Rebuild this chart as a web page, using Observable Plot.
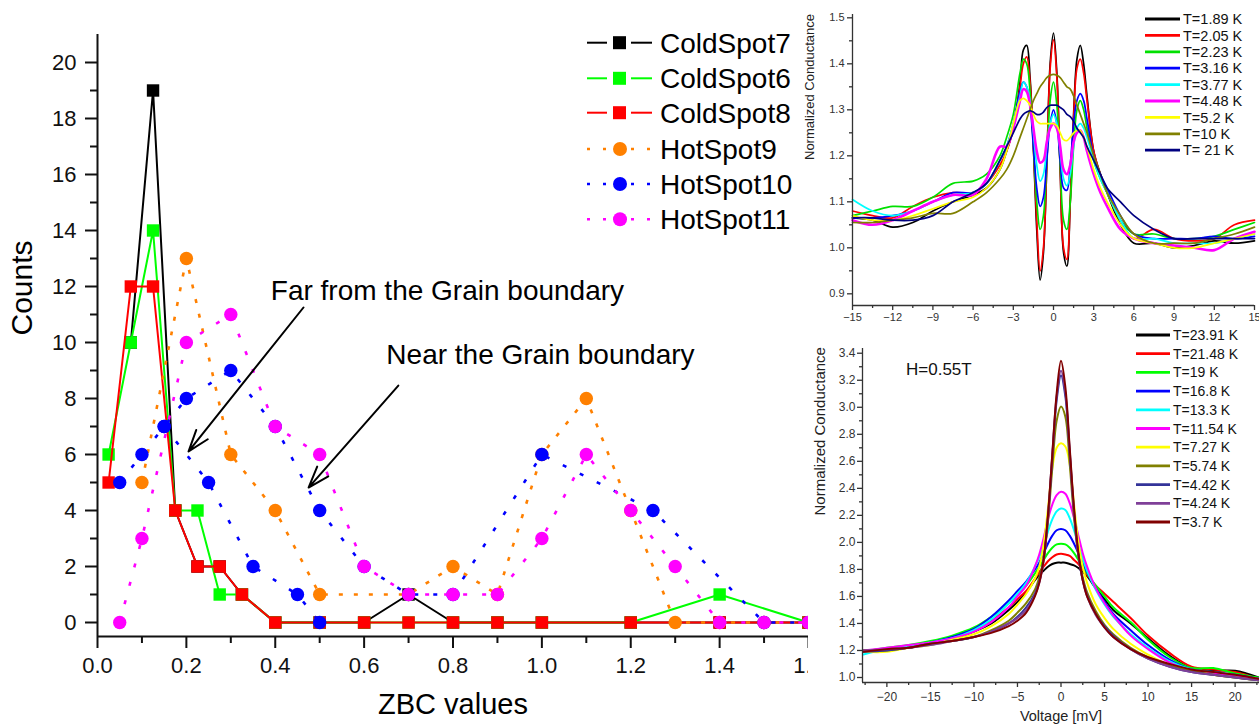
<!DOCTYPE html>
<html><head><meta charset="utf-8">
<script src="https://cdn.jsdelivr.net/npm/d3@7"></script>
<script src="https://cdn.jsdelivr.net/npm/@observablehq/plot@0.6"></script>
<style>
body{margin:0;background:#fff;width:1259px;height:727px;overflow:hidden;position:relative;font-family:"Liberation Sans",Arial,sans-serif;}
.box{position:absolute;}
#main{left:0;top:0;width:812px;height:727px;}
#cover1{position:absolute;left:808px;top:0;width:451px;height:727px;background:#fff;}
#cover2{position:absolute;left:800px;top:0;width:8px;height:330px;background:#fff;}
#bot{left:808px;top:320px;width:451px;height:407px;}
#top{left:800px;top:0;width:459px;height:330px;}
svg text{white-space:pre;}
</style></head><body>
<div id="main" class="box"></div><div id="cover1"></div><div id="cover2"></div><div id="bot" class="box"></div><div id="top" class="box"></div>
<script>
// ---------------- main chart data (ZBC histogram) ----------------
const cold7X = [0.075,0.125,0.175,0.225,0.275,0.325,0.4,0.5,0.6,0.7,0.8,0.9,1.0,1.2,1.4,1.6];
const cold7Y = [10,19,4,2,2,1,0,0,0,1,0,0,0,0,0,0];
const cold6X = [0.025,0.075,0.125,0.175,0.225,0.275,0.325,0.4,0.5,0.6,0.7,0.8,0.9,1.0,1.2,1.4,1.6];
const cold6Y = [6,10,14,4,4,1,1,0,0,0,0,0,0,0,0,1,0];
const cold8X = [0.025,0.075,0.125,0.175,0.225,0.275,0.325,0.4,0.5,0.6,0.7,0.8,0.9,1.0,1.2,1.4,1.6];
const cold8Y = [5,12,12,4,2,2,1,0,0,0,0,0,0,0,0,0,0];
const hot9X = [0.1,0.2,0.3,0.4,0.5,0.7,0.8,0.9,1.0,1.1,1.2,1.3,1.4,1.5,1.6];
const hot9Y = [5,13,6,4,1,1,2,1,6,8,4,0,0,0,0];
const hot10X = [0.05,0.1,0.15,0.2,0.3,0.4,0.5,0.6,0.7,0.8,1.0,1.25,1.5,1.6];
const hot10Y = [5,6,7,8,9,7,4,2,1,1,6,4,0,0];
const hot10bX = [0.15,0.25,0.35,0.45,0.5];
const hot10bY = [7,5,2,1,0];
const hot11X = [0.05,0.1,0.2,0.3,0.4,0.5,0.6,0.7,0.8,0.9,1.0,1.1,1.2,1.3,1.4,1.5,1.6];
const hot11Y = [0,3,10,11,7,6,2,1,1,1,3,6,4,2,0,0,0];
const seriesNames = ["ColdSpot7","ColdSpot6","ColdSpot8","HotSpot9","HotSpot10","HotSpot11"];
const seriesColors = ["#000000","#00ff00","#ff0000","#ff8000","#0000ff","#ff00ff"];
const zbcTicks = [0,0.2,0.4,0.6,0.8,1.0,1.2,1.4,1.6];
const zbcMinor = [0.1,0.3,0.5,0.7,0.9,1.1,1.3,1.5];
const countTicks = [0,2,4,6,8,10,12,14,16,18,20];
const countMinor = [1,3,5,7,9,11,13,15,17,19];
const notes = [
  {label:"Far from the Grain boundary", x:0.39, y:11.85},
  {label:"Near the Grain boundary", x:0.65, y:9.55}
];
const arrows = [
  {x1:0.4635, y1:11.25, x2:0.205, y2:6.11},
  {x1:0.677, y1:8.46, x2:0.475, y2:4.82}
];

// ---------------- top-right panel data ----------------
const topV = [-15,-13.5,-12,-10.5,-9,-7.5,-6,-5,-4,-3.5,-3,-2.5,-2.25,-2,-1.75,-1.5,-1.25,-1,-0.75,-0.5,-0.25,0,0.25,0.5,0.75,1,1.25,1.5,1.75,2,2.25,2.5,3,3.5,4,5,6,7.5,9,10.5,12,13.5,15];
const topT189 = [1.065,1.06,1.045,1.055,1.08,1.10,1.115,1.13,1.17,1.21,1.26,1.36,1.43,1.44,1.37,1.22,1.04,0.93,0.99,1.18,1.40,1.467,1.38,1.17,0.99,0.96,1.10,1.29,1.41,1.44,1.40,1.33,1.21,1.16,1.12,1.05,1.01,1.01,1.0,1.005,1.015,1.01,1.015];
const topT205 = [1.08,1.07,1.065,1.09,1.11,1.12,1.12,1.14,1.18,1.21,1.26,1.35,1.40,1.415,1.36,1.22,1.06,0.95,1.0,1.18,1.39,1.452,1.37,1.17,1.0,0.975,1.10,1.28,1.39,1.41,1.38,1.32,1.21,1.16,1.12,1.06,1.02,1.04,1.02,1.015,1.02,1.05,1.06];
const topT223 = [1.07,1.08,1.09,1.09,1.11,1.14,1.145,1.16,1.20,1.24,1.29,1.38,1.41,1.40,1.34,1.22,1.10,1.04,1.07,1.19,1.32,1.36,1.31,1.18,1.06,1.04,1.10,1.22,1.30,1.32,1.30,1.26,1.19,1.15,1.12,1.06,1.03,1.03,1.02,1.02,1.025,1.04,1.055];
const topT316 = [1.065,1.065,1.07,1.08,1.10,1.12,1.12,1.14,1.19,1.22,1.27,1.34,1.36,1.35,1.31,1.22,1.13,1.09,1.11,1.19,1.27,1.30,1.27,1.19,1.13,1.125,1.18,1.27,1.32,1.335,1.32,1.28,1.20,1.16,1.13,1.07,1.03,1.02,1.02,1.02,1.025,1.02,1.025];
const topT377 = [1.105,1.08,1.07,1.08,1.10,1.115,1.12,1.14,1.19,1.22,1.27,1.33,1.36,1.35,1.32,1.25,1.18,1.145,1.16,1.22,1.27,1.29,1.27,1.21,1.15,1.135,1.16,1.22,1.26,1.27,1.26,1.24,1.19,1.15,1.12,1.06,1.02,1.02,1.01,1.01,1.01,1.02,1.03];
const topT448 = [1.06,1.05,1.06,1.08,1.10,1.115,1.115,1.15,1.22,1.22,1.26,1.32,1.345,1.34,1.31,1.26,1.21,1.185,1.19,1.23,1.26,1.27,1.26,1.22,1.17,1.16,1.18,1.23,1.25,1.255,1.24,1.21,1.16,1.12,1.09,1.04,1.02,1.01,1.005,1.0,0.995,1.02,1.035];
const topT52 = [1.07,1.06,1.06,1.07,1.085,1.10,1.11,1.13,1.17,1.21,1.27,1.32,1.325,1.32,1.31,1.29,1.275,1.27,1.27,1.27,1.27,1.27,1.265,1.25,1.235,1.233,1.24,1.25,1.255,1.255,1.24,1.22,1.17,1.13,1.10,1.05,1.02,1.01,1.0,1.0,1.01,1.02,1.03];
const topT10 = [1.055,1.055,1.06,1.065,1.075,1.075,1.10,1.12,1.15,1.17,1.20,1.24,1.26,1.28,1.30,1.32,1.335,1.35,1.36,1.37,1.375,1.377,1.375,1.37,1.36,1.35,1.345,1.33,1.31,1.29,1.27,1.25,1.20,1.16,1.12,1.07,1.03,1.01,1.01,1.01,1.02,1.03,1.045];
const topT21 = [1.065,1.065,1.06,1.06,1.07,1.10,1.12,1.14,1.19,1.22,1.25,1.28,1.29,1.295,1.298,1.295,1.29,1.29,1.295,1.305,1.31,1.31,1.31,1.305,1.30,1.29,1.285,1.275,1.26,1.25,1.24,1.22,1.19,1.16,1.13,1.10,1.07,1.04,1.02,1.02,1.02,1.02,1.02];
const topLabels = ["T=1.89 K","T=2.05 K","T=2.23 K","T=3.16 K","T=3.77 K","T=4.48 K","T=5.2 K","T=10 K","T= 21 K"];
const topColors = ["#000000","#ff0000","#00e000","#0000ff","#00ffff","#ff00ff","#ffff00","#808000","#000080"];
const topXTicks = [-15,-12,-9,-6,-3,0,3,6,9,12,15];
const topXMinor = [-13.5,-10.5,-7.5,-4.5,-1.5,1.5,4.5,7.5,10.5,13.5];
const topYTicks = [0.9,1.0,1.1,1.2,1.3,1.4,1.5];
const topYMinor = [0.95,1.05,1.15,1.25,1.35,1.45];

// ---------------- bottom-right panel data ----------------
const botV = [-22.7,-20,-17.5,-15,-12.5,-10,-8,-6,-5,-4,-3,-2.5,-2,-1.5,-1,-0.5,0,0.5,1,1.5,2,2.5,3,4,5,6,8,10,12.5,15,17.5,20,22.7];
const botT2391 = [1.19,1.21,1.22,1.25,1.28,1.34,1.40,1.50,1.56,1.63,1.72,1.76,1.79,1.82,1.84,1.85,1.85,1.85,1.84,1.83,1.81,1.78,1.75,1.66,1.58,1.50,1.40,1.29,1.16,1.07,1.05,1.05,1.0];
const botT2148 = [1.20,1.21,1.23,1.26,1.29,1.35,1.42,1.52,1.58,1.64,1.73,1.78,1.82,1.86,1.89,1.91,1.915,1.91,1.90,1.87,1.84,1.80,1.76,1.68,1.62,1.56,1.44,1.31,1.18,1.08,1.06,1.04,0.99];
const botT19 = [1.19,1.22,1.24,1.27,1.31,1.37,1.45,1.55,1.61,1.68,1.77,1.82,1.87,1.92,1.96,1.985,1.99,1.985,1.96,1.92,1.87,1.82,1.77,1.68,1.60,1.52,1.41,1.28,1.15,1.07,1.07,1.03,1.0];
const botT168 = [1.20,1.21,1.23,1.26,1.30,1.36,1.45,1.57,1.64,1.71,1.80,1.85,1.92,1.99,2.05,2.09,2.10,2.09,2.05,1.99,1.92,1.85,1.78,1.66,1.56,1.47,1.35,1.24,1.13,1.06,1.04,1.02,0.99];
const botT133 = [1.17,1.21,1.23,1.26,1.29,1.35,1.43,1.55,1.62,1.70,1.82,1.89,1.97,2.08,2.17,2.23,2.25,2.24,2.18,2.09,1.98,1.88,1.79,1.65,1.54,1.45,1.32,1.22,1.12,1.06,1.04,1.01,0.99];
const botT1154 = [1.20,1.22,1.24,1.26,1.29,1.34,1.41,1.52,1.60,1.68,1.82,1.91,2.03,2.17,2.28,2.35,2.375,2.36,2.29,2.18,2.05,1.92,1.82,1.66,1.55,1.46,1.31,1.21,1.11,1.05,1.03,1.01,0.99];
const botT727 = [1.19,1.19,1.22,1.24,1.28,1.32,1.38,1.47,1.54,1.62,1.73,1.82,1.98,2.25,2.55,2.70,2.733,2.71,2.58,2.28,2.00,1.82,1.70,1.54,1.44,1.36,1.25,1.17,1.09,1.05,1.02,1.0,0.98];
const botT574 = [1.20,1.20,1.22,1.25,1.27,1.30,1.35,1.42,1.48,1.55,1.65,1.74,1.88,2.15,2.55,2.90,3.005,2.93,2.58,2.18,1.90,1.74,1.63,1.49,1.39,1.32,1.22,1.15,1.09,1.05,1.02,1.0,0.98];
const botT442 = [1.19,1.20,1.22,1.25,1.27,1.30,1.34,1.40,1.45,1.52,1.62,1.71,1.87,2.18,2.63,3.05,3.235,3.08,2.66,2.22,1.90,1.72,1.61,1.47,1.38,1.31,1.21,1.14,1.08,1.04,1.02,1.0,0.98];
const botT424 = [1.20,1.21,1.22,1.24,1.27,1.30,1.34,1.40,1.44,1.50,1.61,1.70,1.86,2.19,2.65,3.08,3.27,3.11,2.68,2.23,1.91,1.72,1.60,1.46,1.37,1.30,1.21,1.14,1.08,1.04,1.02,1.0,0.98];
const botT37 = [1.19,1.21,1.22,1.25,1.27,1.30,1.33,1.38,1.42,1.48,1.60,1.70,1.87,2.20,2.65,3.10,3.345,3.15,2.70,2.25,1.92,1.72,1.60,1.47,1.37,1.30,1.21,1.15,1.10,1.06,1.04,1.02,0.99];
const botLabels = ["T=23.91 K","T=21.48 K","T=19 K","T=16.8 K","T=13.3 K","T=11.54 K","T=7.27 K","T=5.74 K","T=4.42 K","T=4.24 K","T=3.7 K"];
const botColors = ["#000000","#ff0000","#00ff00","#0000ff","#00ffff","#ff00ff","#ffff00","#808000","#333399","#7f3f98","#800000"];
const botXTicks = [-20,-15,-10,-5,0,5,10,15,20];
const botXMinor = [-22.5,-17.5,-12.5,-7.5,-2.5,2.5,7.5,12.5,17.5,22.5];
const botYTicks = [1.0,1.2,1.4,1.6,1.8,2.0,2.2,2.4,2.6,2.8,3.0,3.2,3.4];
const botYMinor = [1.1,1.3,1.5,1.7,1.9,2.1,2.3,2.5,2.7,2.9,3.1,3.3];
const fieldNote = [{label:"H=0.55T", x:-17.8, y:3.28}];

// ================= main chart =================
const toRows = (X, Y) => X.map((x, i) => ({x, y: Y[i]}));
const mainSeries = [
  {name:seriesNames[0], rows:[toRows(cold7X,cold7Y)], color:seriesColors[0], symbol:"square", dash:null},
  {name:seriesNames[1], rows:[toRows(cold6X,cold6Y)], color:seriesColors[1], symbol:"square", dash:null},
  {name:seriesNames[2], rows:[toRows(cold8X,cold8Y)], color:seriesColors[2], symbol:"square", dash:null},
  {name:seriesNames[3], rows:[toRows(hot9X,hot9Y)], color:seriesColors[3], symbol:"circle", dash:"4,11"},
  {name:seriesNames[4], rows:[toRows(hot10X,hot10Y), toRows(hot10bX,hot10bY)], color:seriesColors[4], symbol:"circle", dash:"4,15"},
  {name:seriesNames[5], rows:[toRows(hot11X,hot11Y)], color:seriesColors[5], symbol:"circle", dash:"4,15"}
];
const seriesMarks = [];
for (const s of mainSeries) {
  for (const r of s.rows) {
    seriesMarks.push(Plot.line(r, {x:"x", y:"y", stroke:s.color, strokeWidth: s.dash ? 2.6 : 2, strokeDasharray: s.dash || undefined, strokeLinecap:"butt"}));
  }
  for (const r of s.rows) {
    seriesMarks.push(Plot.dot(r, {x:"x", y:"y", symbol:s.symbol, r: s.symbol === "square" ? 7 : 6.7, fill:s.color, stroke:"none"}));
  }
}
const mainPlot = Plot.plot({
  width: 812, height: 727, marginLeft: 97, marginRight: 4, marginTop: 34, marginBottom: 91,
  style: {background:"transparent", fontFamily:"Liberation Sans, Arial, sans-serif", fontSize:"22px", color:"#111", overflow:"visible"},
  x: {domain:[0,1.6], label:null}, y: {domain:[-0.5,21], label:null},
  marks: [
    Plot.axisX({ticks: zbcTicks, tickSize: 12, tickPadding: 9, tickFormat: d3.format(".1f"), strokeWidth: 2, fontSize: 22}),
    Plot.axisX({ticks: zbcMinor, tickSize: 7, tickFormat: () => "", strokeWidth: 2}),
    Plot.axisY({ticks: countTicks, tickSize: 12, tickPadding: 9, strokeWidth: 2, fontSize: 22}),
    Plot.axisY({ticks: countMinor, tickSize: 7, tickFormat: () => "", strokeWidth: 2}),
    Plot.ruleX([0], {strokeWidth: 2}),
    Plot.ruleY([-0.5], {strokeWidth: 2}),
    ...seriesMarks,
    Plot.arrow(arrows, {x1:"x1", y1:"y1", x2:"x2", y2:"y2", stroke:"#000", strokeWidth:2, headLength:17, headAngle:38}),
    Plot.text(notes, {x:"x", y:"y", text:"label", textAnchor:"start", fontSize:28, fill:"#000"}),
    Plot.text(["Counts"], {frameAnchor:"left", dx:-75, rotate:-90, fontSize:30, fill:"#000"}),
    Plot.text(["ZBC values"], {frameAnchor:"bottom", dy:77, fontSize:29, fill:"#000"})
  ]
});
document.getElementById("main").appendChild(mainPlot);
{
  const g = d3.select(mainPlot).append("g").attr("text-anchor", "start");
  const rowsY = [42.7, 78.3, 112.7, 149, 184, 219.3];
  mainSeries.forEach((s, i) => {
    const y = rowsY[i];
    for (const [a, b] of [[587, 607], [631, 652]]) {
      g.append("line").attr("x1", a).attr("x2", b).attr("y1", y).attr("y2", y)
        .attr("stroke", s.color).attr("stroke-width", s.dash ? 2.6 : 2)
        .attr("stroke-dasharray", s.dash ? "3,13" : null);
    }
    if (s.symbol === "square") g.append("rect").attr("x", 613).attr("y", y - 6.5).attr("width", 13).attr("height", 13).attr("fill", s.color);
    else g.append("circle").attr("cx", 620).attr("cy", y).attr("r", 7).attr("fill", s.color);
    g.append("text").attr("x", 660).attr("y", y).attr("dy", "0.36em").attr("text-anchor", "start").attr("font-size", 28).attr("fill", "#000").text(s.name);
  });
}

// ================= top-right panel =================
const topSets = [topT189, topT205, topT223, topT316, topT377, topT448, topT52, topT10, topT21];
const topMarks = topSets.map((vals, k) =>
  Plot.line(topV.map((v, i) => ({v, g: vals[i]})), {x:"v", y:"g", stroke: topColors[k], strokeWidth: k === 5 ? 2.6 : 1.7, curve:"catmull-rom"}));
const topPlot = Plot.plot({
  width: 459, height: 330, marginLeft: 52, marginRight: 5, marginTop: 14, marginBottom: 25,
  style: {background:"transparent", fontFamily:"Liberation Sans, Arial, sans-serif", fontSize:"11px", color:"#333", overflow:"visible"},
  x: {domain:[-15,15], label:null}, y: {domain:[0.8746,1.5072], label:null},
  marks: [
    ...topMarks,
    Plot.ruleX([-15], {stroke:"#333", strokeWidth:1.3}),
    Plot.ruleY([0.8746], {stroke:"#333", strokeWidth:1.3}),
    Plot.axisX({ticks: topXTicks, tickSize: 5, tickPadding: 3, strokeWidth: 1.3}),
    Plot.axisX({ticks: topXMinor, tickSize: 3, tickFormat: () => "", strokeWidth: 1.3}),
    Plot.axisY({ticks: topYTicks, tickSize: 5, tickPadding: 3, tickFormat: d3.format(".1f"), strokeWidth: 1.3}),
    Plot.axisY({ticks: topYMinor, tickSize: 3, tickFormat: () => "", strokeWidth: 1.3}),
    Plot.text(["Normalized Conductance"], {frameAnchor:"left", dx:-43, rotate:-90, fontSize:13, fill:"#222"})
  ]
});
document.getElementById("top").appendChild(topPlot);
{
  const g = d3.select(topPlot).append("g").attr("text-anchor", "start");
  topLabels.forEach((t, i) => {
    const y = 19 + i * 16.4;
    g.append("line").attr("x1", 345).attr("x2", 380).attr("y1", y).attr("y2", y).attr("stroke", topColors[i]).attr("stroke-width", 2.8);
    g.append("text").attr("x", 383).attr("y", y).attr("dy", "0.36em").attr("text-anchor", "start").attr("font-size", 14.5).attr("fill", "#111").text(t);
  });
}

// ================= bottom-right panel =================
const botSets = [botT2391, botT2148, botT19, botT168, botT133, botT1154, botT727, botT574, botT442, botT424, botT37];
const botMarks = botSets.map((vals, k) =>
  Plot.line(botV.map((v, i) => ({v, g: vals[i]})), {x:"v", y:"g", stroke: botColors[k], strokeWidth: 2, curve:"catmull-rom"}));
const botPlot = Plot.plot({
  width: 451, height: 407, marginLeft: 54, marginRight: 0, marginTop: 28, marginBottom: 45,
  style: {background:"transparent", fontFamily:"Liberation Sans, Arial, sans-serif", fontSize:"12px", color:"#333", overflow:"visible"},
  x: {domain:[-22.8,22.8], label:null}, y: {domain:[0.963,3.435], label:null},
  marks: [
    ...botMarks,
    Plot.ruleX([-22.8], {stroke:"#333", strokeWidth:1.3}),
    Plot.ruleY([0.963], {stroke:"#333", strokeWidth:1.3}),
    Plot.axisX({ticks: botXTicks, tickSize: 5, tickPadding: 5, strokeWidth: 1.3}),
    Plot.axisX({ticks: botXMinor, tickSize: 3, tickFormat: () => "", strokeWidth: 1.3}),
    Plot.axisY({ticks: botYTicks, tickSize: 5, tickPadding: 2, tickFormat: d3.format(".1f"), strokeWidth: 1.3}),
    Plot.axisY({ticks: botYMinor, tickSize: 3, tickFormat: () => "", strokeWidth: 1.3}),
    Plot.text(fieldNote, {x:"x", y:"y", text:"label", textAnchor:"start", fontSize:17, fill:"#111"}),
    Plot.text(["Normalized Conductance"], {frameAnchor:"left", dx:-42, rotate:-90, fontSize:15, fill:"#222"}),
    Plot.text(["Voltage [mV]"], {frameAnchor:"bottom", dy:38, fontSize:14.5, fill:"#222"})
  ]
});
document.getElementById("bot").appendChild(botPlot);
{
  const g = d3.select(botPlot).append("g").attr("text-anchor", "start");
  botLabels.forEach((t, i) => {
    const y = 15 + i * 18.7;
    g.append("line").attr("x1", 328).attr("x2", 362).attr("y1", y).attr("y2", y).attr("stroke", botColors[i]).attr("stroke-width", 2.8);
    g.append("text").attr("x", 365).attr("y", y).attr("dy", "0.36em").attr("text-anchor", "start").attr("font-size", 14).attr("fill", "#111").text(t);
  });
}
</script></body></html>
